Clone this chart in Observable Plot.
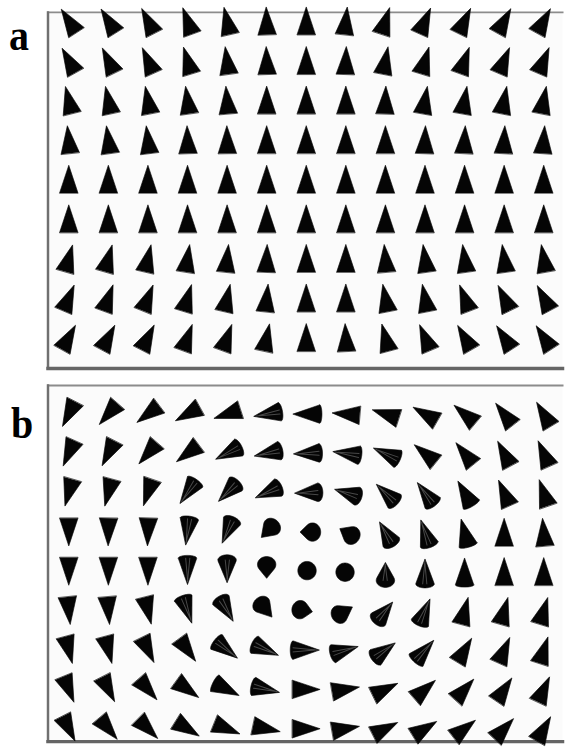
<!DOCTYPE html>
<html><head><meta charset="utf-8">
<script src="https://cdn.jsdelivr.net/npm/d3@7"></script>
<script src="https://cdn.jsdelivr.net/npm/@observablehq/plot@0.6"></script>
<style>
html,body{margin:0;padding:0;background:#fff;overflow:hidden;width:566px;height:747px;}
#wrap{position:relative;width:566px;height:747px;overflow:hidden;}
.panel{position:absolute;left:0;}
#overlay{position:absolute;left:0;top:0;pointer-events:none;}
</style></head><body>
<div id="wrap">
  <div class="panel" id="pa" style="top:0px"></div>
  <div class="panel" id="pb" style="top:376px"></div>
</div>
<script>
// ---- grid ----
const cols = [1,2,3,4,5,6,7,8,9,10,11,12,13];
const rows = [1,2,3,4,5,6,7,8,9];
const panelLabels = ["a", "b"];

// ---- panel a: cone direction (degrees clockwise from up), one array per row ----
const angleA = [
  [-33,-32,-27,-20,-13,-2,0,6,18,24,26,29,29],
  [-29,-26,-24,-17,-8,-2,0,2,11,17,20,23,23],
  [-14,-12,-11,-8,-5,0,0,0,2,10,10,11,11],
  [-6,-8,-7,-2,-1,0,0,0,0,2,3,3,4],
  [0,0,0,0,0,0,0,0,0,0,0,0,0],
  [0,0,0,0,0,0,0,0,0,0,0,0,0],
  [16,16,13,9,6,2,0,0,-5,-8,-8,-8,-10],
  [23,20,22,17,13,6,0,0,-11,-11,-21,-26,-28],
  [29,28,27,20,20,12,0,-3,-15,-23,-30,-33,-33]
];
// in-plane fraction of each cone (1 = lying in the picture plane)
const projA = [
  [1,1,1,1,1,1,1,1,1,1,1,1,1],
  [1,1,1,1,1,1,1,1,1,1,1,1,1],
  [1,1,1,1,1,1,1,1,1,1,1,1,1],
  [1,1,1,1,1,1,1,1,1,1,1,1,1],
  [1,1,1,1,1,1,1,1,1,1,1,1,1],
  [1,1,1,1,1,1,1,1,1,1,1,1,1],
  [1,1,1,1,1,1,1,1,1,1,1,1,1],
  [1,1,1,1,1,1,1,1,1,1,1,1,1],
  [1,1,1,1,1,1,1,1,1,1,1,1,1]
];

// ---- panel b: vortex ----
const angleB = [
  [207,221,233,241,252,260,270,275,288,300,310,322,329],
  [204,207,221,233,243,258,268,278,294,309,321,332,336],
  [196,195,199,215,225,246,268,287,313,323,330,336,341],
  [180,181,182,188,204,225,270,300,330,341,345,0,355],
  [180,180,180,180,180,180,225,45,0,0,0,0,0],
  [174,175,166,161,150,140,100,60,40,23,15,16,17],
  [165,165,154,144,128,114,90,74,54,42,31,24,18],
  [158,153,139,126,117,103,90,80,64,49,42,34,25],
  [153,140,135,122,112,102,90,80,63,58,52,43,30]
];
const projB = [
  [1,1,1,1,1,0.95,0.97,1,1,1,1,1,1],
  [1,1,1,1,0.93,0.92,0.93,0.95,0.95,1,1,1,1],
  [1,1,1,0.95,0.88,0.9,0.85,0.85,0.9,0.92,0.97,1,1],
  [1,1,1,0.95,0.88,0.55,0.45,0.5,0.85,0.93,0.97,1,1],
  [1,1,1,0.95,0.82,0.5,0.08,0.08,0.65,0.9,0.97,1,1],
  [1,1,1,0.95,0.88,0.6,0.45,0.55,0.82,0.93,1,1,1],
  [1,1,1,1,0.95,0.93,0.95,0.93,0.88,0.95,1,1,1],
  [1,1,1,1,0.97,0.95,1,1,1,1,1,1,1],
  [1,1,1,1,1,1,1,1,1,1,1,1,1]
];

function cells(angles, proj) {
  const out = [];
  rows.forEach((r, i) => cols.forEach((c, j) => out.push({col: c, row: r, angle: angles[i][j], p: proj[i][j]})));
  return out;
}

const CONE_LEN = 28, CONE_R = 9.3;
// cone silhouette: hull of apex and the (foreshortened) base circle
const cone = {
  draw(ctx, l, r) {
    const p = Math.min(1, l / CONE_LEN);
    const ry = r * Math.sqrt(Math.max(0, 1 - p * p));
    const pts = d3.range(60).map(k => {
      const t = 2 * Math.PI * k / 60;
      return [r * Math.cos(t), ry * Math.sin(t)];
    });
    pts.push([0, -l]);
    const hull = d3.polygonHull(pts);
    ctx.moveTo(hull[0][0], hull[0][1]);
    for (let k = 1; k < hull.length; ++k) ctx.lineTo(hull[k][0], hull[k][1]);
    ctx.closePath();
  }
};
// light streaks on tilted cones (shading)
const streak = {
  draw(ctx, l, r) {
    ctx.moveTo(-r * 0.25, 0);
    ctx.lineTo(0, -l * 0.9);
    ctx.moveTo(r * 0.2, 0);
    ctx.lineTo(0, -l * 0.8);
  }
};

function panel(data, o) {
  return Plot.plot({
    width: 572, height: o.height,
    marginLeft: 48, marginRight: 4, marginTop: o.mt, marginBottom: 2,
    x: {domain: [1, 13], range: [69, 549], axis: null},
    y: {domain: [1, 9], range: o.yr, axis: null},
    length: {domain: [0, 1], range: [0, CONE_LEN]},
    style: {background: "transparent", overflow: "visible"},
    marks: [
      Plot.frame({fill: "#fbfbfb", stroke: null}),
      Plot.frame({anchor: "top", stroke: "#8c8c8c", strokeWidth: 2}),
      Plot.frame({anchor: "left", stroke: "#707070", strokeWidth: 2.5}),
      Plot.frame({anchor: "bottom", stroke: "#656565", strokeWidth: 3.5}),
      Plot.vector(data, {
        x: "col", y: "row", rotate: "angle", length: "p",
        shape: cone, r: CONE_R, anchor: "middle",
        fill: "#050505", stroke: "#050505", strokeWidth: 0.6
      }),
      Plot.vector(data.filter(d => d.p > 0.6 && d.p < 0.96), {
        x: "col", y: "row", rotate: "angle", length: "p",
        shape: streak, r: CONE_R, anchor: "middle",
        stroke: "#5a5a5a", strokeWidth: 1, strokeOpacity: 0.8
      })
    ]
  });
}

document.getElementById("pa").append(panel(cells(angleA, projA), {height: 374, mt: 12, yr: [20.5, 340.5]}));
document.getElementById("pb").append(panel(cells(angleB, projB), {height: 371, mt: 9, yr: [38, 356]}));

// panel letters
const ov = d3.select("#wrap").append("svg").attr("id", "overlay").attr("width", 566).attr("height", 747);
const pos = [[9, 50], [11, 438]];
ov.selectAll("text").data(panelLabels).join("text")
  .attr("transform", (d, i) => `translate(${pos[i][0]},${pos[i][1]}) scale(1,1.1)`)
  .attr("font-family", "'Liberation Serif','Times New Roman',serif")
  .attr("font-weight", "bold").attr("font-size", 40).attr("fill", "#000")
  .text(d => d);
</script>
</body></html>
